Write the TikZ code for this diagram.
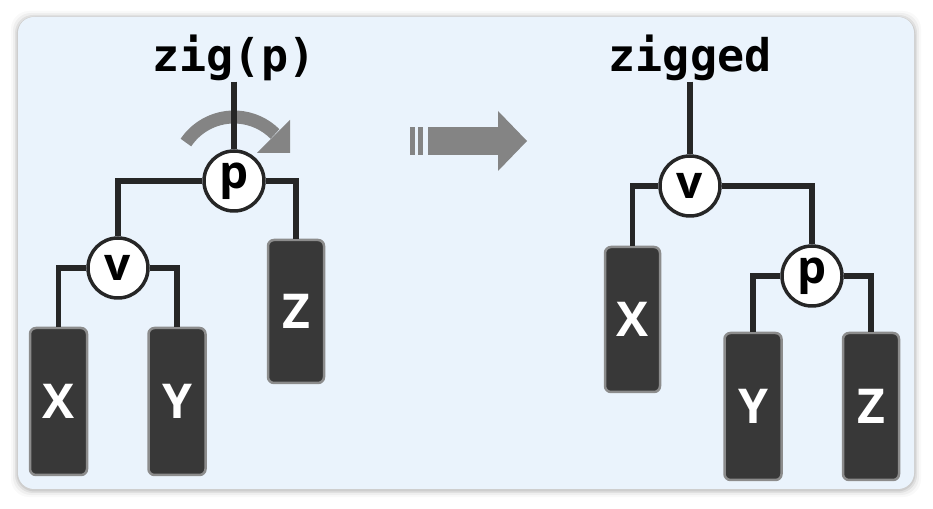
\documentclass[tikz,border=0pt]{standalone}
\usepackage{fontspec}
\setmainfont{Open Sans}
\newfontfamily\monof{DejaVu Sans Mono}
\definecolor{bgblue}{HTML}{EAF3FC}
\definecolor{lineblk}{HTML}{262626}
\definecolor{boxfill}{HTML}{383838}
\definecolor{boxedge}{HTML}{8C8C8C}
\definecolor{arrowgray}{HTML}{848484}
\begin{document}
\begin{tikzpicture}[x=1pt,y=1pt,
 link/.style={draw=lineblk, line width=5.5pt},
 tnode/.style={circle, draw=lineblk, line width=3.5pt, fill=white, minimum size=60pt, inner sep=0pt, font=\fontsize{46}{46}\selectfont\bfseries},
 subtree/.style={draw=boxedge, line width=2.5pt, fill=boxfill, rounded corners=6pt, inner sep=0pt, text=white, font=\fontsize{48}{48}\selectfont\bfseries},
 title/.style={font=\monof\fontsize{45}{45}\selectfont\bfseries, inner sep=0pt, anchor=base},
 grayfill/.style={fill=arrowgray, draw=none}
]
\useasboundingbox (0,0) rectangle (933,508);
\fill[white] (0,0) rectangle (933,508);
% soft shadow of the panel
\foreach \i/\o in {7/0.025,5/0.04,3/0.06,1.5/0.08}{
  \fill[black, opacity=\o, rounded corners=18pt] (18-\i,18-\i) rectangle (914+\i,490+\i);
}
\fill[bgblue, rounded corners=16pt] (18,19) rectangle (914,491);

% rotation arrow
\coordinate (rotc) at (234,333);
\draw[arrowgray, line width=13pt] (rotc) ++(146:58) arc[start angle=146, end angle=45, radius=58];
\fill[arrowgray] (290,388) -- (290,355) -- (257,355) -- cycle;

% transformation arrow
\fill[grayfill] (410,353) rectangle (415,381);
\fill[grayfill] (418,353) rectangle (423,381);
\fill[grayfill] (428,353) rectangle (499,381);
\fill[grayfill] (498,397) -- (527,367) -- (498,337) -- cycle;

% left tree
\node[title] (zig) at (234,436) {zig(p)};
\node[tnode] (p1) at (234,327) {p};
\node[tnode] (v1) at (118,240) {v};
\node[subtree, minimum width=57pt, minimum height=147pt] (X1) at (58.5,106.5) {X};
\node[subtree, minimum width=57pt, minimum height=147pt] (Y1) at (177,106.5) {Y};
\node[subtree, minimum width=56pt, minimum height=143pt] (Z1) at (296,196.5) {Z};

\draw[link] (zig.south) -- (p1.north);
\draw[link] (p1.west) -| (v1.north);
\draw[link] (p1.east) -| (Z1.north);
\draw[link] (v1.west) -| (X1.north);
\draw[link] (v1.east) -| (Y1.north);

% right tree
\node[title] (zigged) at (690,436) {zigged};
\node[tnode] (v2) at (690,322) {v};
\node[subtree, minimum width=55pt, minimum height=145pt] (X2) at (632.5,188.5) {X};
\node[tnode] (p2) at (812,232) {p};
\node[subtree, minimum width=57pt, minimum height=147pt] (Y2) at (753,101.5) {Y};
\node[subtree, minimum width=56pt, minimum height=147pt] (Z2) at (871,101.5) {Z};

\draw[link] (zigged.south) -- (v2.north);
\draw[link] (v2.west) -| (X2.north);
\draw[link] (v2.east) -| (p2.north);
\draw[link] (p2.west) -| (Y2.north);
\draw[link] (p2.east) -| (Z2.north);
\end{tikzpicture}
\end{document}
